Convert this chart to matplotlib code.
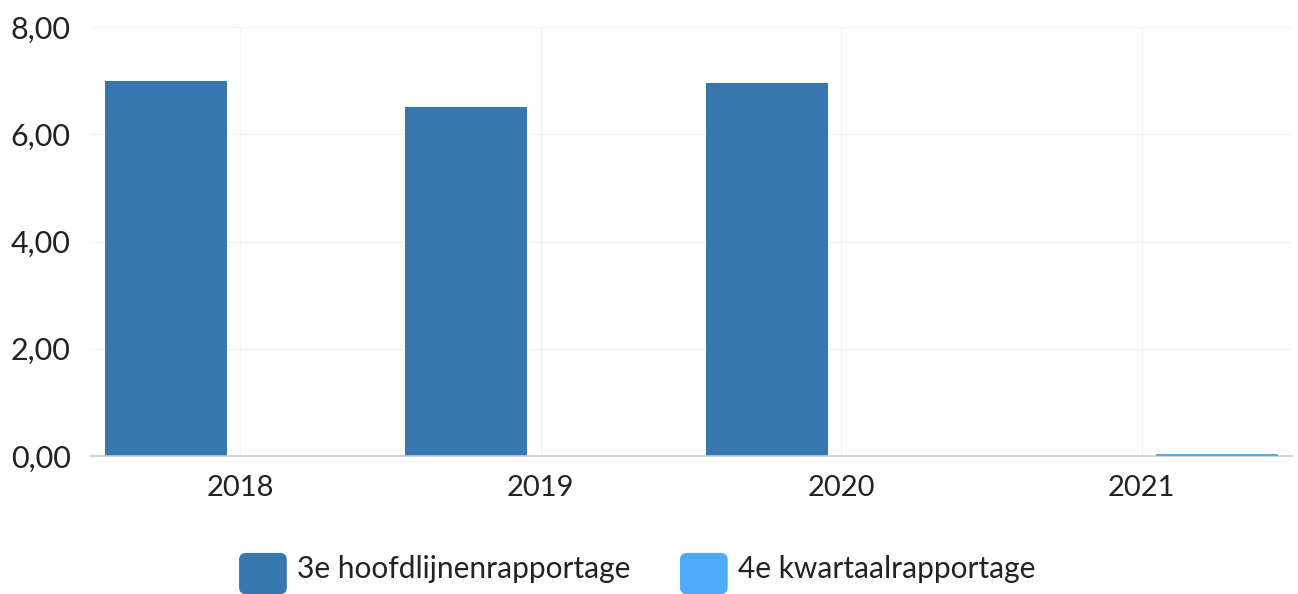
import matplotlib
matplotlib.use("Agg")
import matplotlib.pyplot as plt
import numpy as np
from matplotlib.patches import FancyBboxPatch, Patch
from matplotlib.legend_handler import HandlerPatch

categories = ["2018", "2019", "2020", "2021"]
series_names = ["3e hoofdlijnenrapportage", "4e kwartaalrapportage"]
hoofdlijnen = [7.00, 6.51, 6.96, 0.0]
kwartaal = [0.0, 0.0, 0.0, 0.03]
colors = ["#3777b0", "#4faaf9"]
yticks = [0, 2, 4, 6, 8]

plt.rcParams['font.family'] = ['Lato', 'DejaVu Sans']

fig = plt.figure(figsize=(12.98, 5.94), dpi=100)
ax = fig.add_axes([90/1298, 1-456/594, 1202/1298, (456-27)/594])

x = np.arange(len(categories))
w = 0.405
ax.bar(x - 0.248, hoofdlijnen, width=w, color=colors[0], zorder=3)
ax.bar(x + 0.25, kwartaal, width=w, color=colors[1], zorder=5, clip_on=False)

ax.set_xlim(-0.5, len(categories) - 0.5)
ax.set_ylim(0, 8)
ax.set_yticks(yticks)
ax.set_yticklabels([f"{v:.2f}".replace(".", ",") for v in yticks])
ax.set_xticks(x)
ax.set_xticklabels(categories)
ax.tick_params(axis='y', length=0, labelsize=22, colors='#222222', pad=14)
ax.tick_params(axis='x', length=0, labelsize=21, colors='#222222', pad=14)

ax.grid(True, color='#f2f2f2', linewidth=1, zorder=0)
for s in ['top', 'right', 'left']:
    ax.spines[s].set_visible(False)
ax.spines['bottom'].set_color('#cccccc')
ax.spines['bottom'].set_linewidth(1.2)
ax.spines['bottom'].set_zorder(4)


class RoundHandler(HandlerPatch):
    def create_artists(self, legend, orig_handle, xdescent, ydescent, width, height, fontsize, trans):
        p = FancyBboxPatch((-xdescent, -ydescent - 4), width, height,
                           boxstyle="round,pad=0,rounding_size=5",
                           facecolor=orig_handle.get_facecolor(), edgecolor='none',
                           transform=trans)
        return [p]

handles = [Patch(facecolor=c) for c in colors]
leg = fig.legend(handles, series_names, loc='center', bbox_to_anchor=(637/1298, 1-568/594),
                 ncol=2, frameon=False, fontsize=21.5, handlelength=1.6, handleheight=1.75,
                 handletextpad=0.33, columnspacing=1.67, borderpad=0.1,
                 handler_map={Patch: RoundHandler()})
for t in leg.get_texts():
    t.set_color('#222222')

fig.savefig("out.png", dpi=100)
